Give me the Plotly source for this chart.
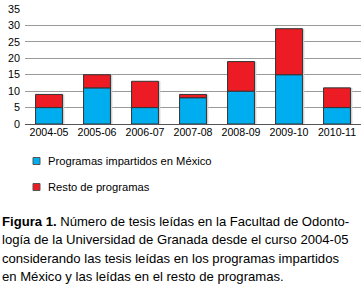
import plotly.graph_objects as go

categories = ["2004-05", "2005-06", "2006-07", "2007-08", "2008-09", "2009-10", "2010-11"]
mexico = [5, 11, 5, 8, 10, 15, 5]
resto = [4, 4, 8, 1, 9, 14, 6]
series_names = ["Programas impartidos en México", "Resto de programas"]
yticks = [0, 5, 10, 15, 20, 25, 30, 35]
caption_lines = [
    "<b>Figura 1.</b> Número de tesis leídas en la Facultad de Odonto-",
    "logía de la Universidad de Granada desde el curso 2004-05",
    "considerando las tesis leídas en los programas impartidos",
    "en México y las leídas en el resto de programas.",
]

BLUE = "#00AEEF"
RED = "#ED1C24"
FONT = "Liberation Sans, Arial, sans-serif"

W, H = 361, 284
ML, MR, MT, MB = 25, 0, 9, 160
PW = W - ML - MR
PH = H - MT - MB
BARW = 0.56


def px_x(px):
    return (px - ML) / PW


def px_y(py):
    return (H - MB - py) / PH


totals = [a + b for a, b in zip(mexico, resto)]

fig = go.Figure()
# soft drop shadow behind each bar
fig.add_bar(x=categories, y=totals, marker=dict(color="#cfcfcf", line=dict(width=0)),
            width=BARW, offset=-BARW / 2 + 0.04, showlegend=False, hoverinfo="skip")
fig.add_bar(x=categories, y=mexico, name=series_names[0],
            marker=dict(color=BLUE, line=dict(color="#333333", width=1)),
            width=BARW, offset=-BARW / 2, showlegend=False)
fig.add_bar(x=categories, y=resto, base=mexico, name=series_names[1],
            marker=dict(color=RED, line=dict(color="#333333", width=1)),
            width=BARW, offset=-BARW / 2, showlegend=False)

# legend (key squares + labels)
legend_rows = [(series_names[0], BLUE, 161), (series_names[1], RED, 187)]
for name, col, yc in legend_rows:
    fig.add_shape(type="rect", xref="paper", yref="paper",
                  x0=px_x(33), x1=px_x(40), y0=px_y(yc + 3.5), y1=px_y(yc - 3.5),
                  fillcolor=col, line=dict(color="#555555", width=1))
    fig.add_annotation(text=name, xref="paper", yref="paper", x=px_x(46), y=px_y(yc),
                       xanchor="left", yanchor="middle", showarrow=False,
                       font=dict(family=FONT, size=11.2, color="#000000"))

for i, line in enumerate(caption_lines):
    fig.add_annotation(text=line, xref="paper", yref="paper", x=px_x(0), y=px_y(221.5 + i * 18.3),
                       xanchor="left", yanchor="middle", showarrow=False,
                       font=dict(family=FONT, size=13.1, color="#000000"), align="left")

fig.update_layout(
    width=W, height=H,
    margin=dict(l=ML, r=MR, t=MT, b=MB, pad=0, autoexpand=False),
    barmode="overlay",
    showlegend=False,
    paper_bgcolor="white", plot_bgcolor="white",
    font=dict(family=FONT, size=10.6, color="#000000"),
    xaxis=dict(type="category", showgrid=False, ticks="", tickfont=dict(size=10.6), showline=False,
               range=[-0.5, 6.5], automargin=False),
    yaxis=dict(range=[0, 35], tickvals=yticks, showgrid=True, gridcolor="#9a9a9a", gridwidth=1,
               zeroline=True, zerolinecolor="#555555", zerolinewidth=1, ticks="",
               tickfont=dict(size=10.8), ticklabelstandoff=4, automargin=False),
)

fig.write_html("out.html", config={"displayModeBar": False},
               post_script="document.body.style.margin='0';document.body.style.overflow='hidden';")
